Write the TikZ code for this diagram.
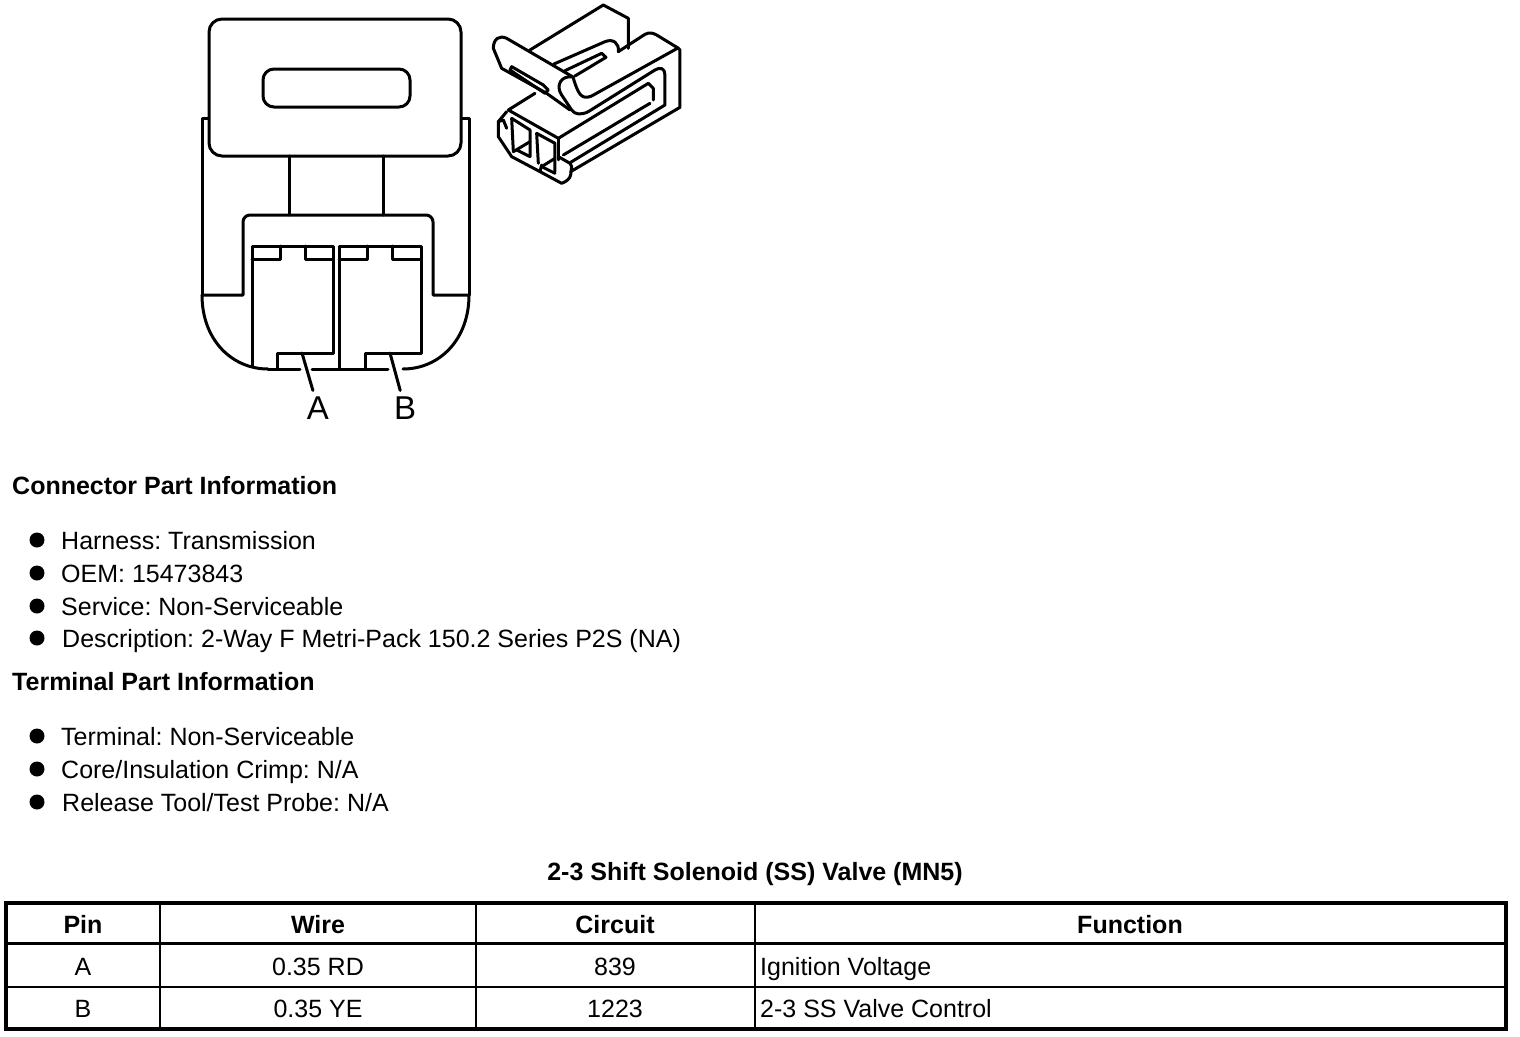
\documentclass[tikz,border=0pt]{standalone}
\usepackage{fontspec}
\setmainfont{Liberation Sans}
\frenchspacing
\usetikzlibrary{positioning}
\tikzset{
    part/.style={line width=3pt, line join=round, line cap=round},
    pinlabel/.style={font=\fontsize{33}{33}\selectfont, inner sep=6pt},
    heading/.style={anchor=base west, inner sep=0pt, font=\fontsize{25}{25}\selectfont\bfseries},
    item/.style={anchor=base west, inner sep=0pt, font=\fontsize{25}{25}\selectfont},
    dot/.style={circle, fill=black, inner sep=0pt, minimum size=15pt},
    head/.style={anchor=base, inner sep=0pt, font=\fontsize{25}{25}\selectfont\bfseries},
    cell/.style={anchor=base, inner sep=0pt, font=\fontsize{25}{25}\selectfont},
    leftcell/.style={anchor=base west, inner sep=0pt, font=\fontsize{25}{25}\selectfont}
}
\begin{document}
\begin{tikzpicture}[x=1pt, y=-1pt]
    \useasboundingbox [fill=white] (0,0) rectangle (1520,1036);

    % Front view of connector
    \draw [part, rounded corners=13pt] (209,19) rectangle (461,156);
    \draw [part, rounded corners=11pt] (263,69) rectangle (410,107);
    \draw [part] (208,118) -- (202,118) -- (202,295);
    \draw [part] (462,118) -- (469,118) -- (469,295);
    \draw [part] (289,156) -- (289,215);
    \draw [part] (383,156) -- (383,215);
    \draw [part] (202,295) -- (243,295) -- (243,240) [rounded corners=7pt] -- (243,215) -- (433,215) -- (433,240) [sharp corners] -- (433,295) -- (469,295);
    \draw [part] (202,295) .. controls (202,340) and (232,369) .. (268,369);
    \draw [part] (469,295) .. controls (469,340) and (439,369) .. (403,369);
    \draw [part] (268,369) -- (300,369);
    \draw [part] (312,369) -- (388,369);

    % Pin cavities
    \draw [part] (252,366) -- (252,246) -- (333,246) -- (333,353) -- (277,353) -- (277,369);
    \draw [part] (252,259) -- (280,259) -- (280,246);
    \draw [part] (333,259) -- (305,259) -- (305,246);
    \draw [part] (339,369) -- (339,246) -- (421,246) -- (421,353) -- (365,353) -- (365,369);
    \draw [part] (339,259) -- (367,259) -- (367,246);
    \draw [part] (421,259) -- (392,259) -- (392,246);

    % Pin labels
    \coordinate (pinA) at (302,353);
    \coordinate (pinB) at (390,353);
    \node [pinlabel] (lblA) at (318,408) {A};
    \node [pinlabel] (lblB) at (405,408) {B};
    \draw [part] (pinA) -- (lblA);
    \draw [part] (pinB) -- (lblB);

    % Perspective view of connector
    \begin{scope}[shift={(480pt,0pt)}, x=0.3333pt, y=-0.3333pt]
        % back block
        \draw [part] (150,150) -- (370,15) -- (445,55) -- (445,145);
        \draw [part] (222,192) -- (375,125) .. controls (400,115) and (418,130) .. (415,155);
        \draw [part] (255,212) -- (365,160) -- (378,172) -- (285,228);
        % outer hook
        \draw [part] (415,155) -- (495,103) .. controls (510,95) and (520,100) .. (530,105) -- (594,144) -- (600,150) -- (600,322) -- (272,515);
        \draw [part] (594,144) -- (335,288) .. controls (305,300) and (295,285) .. (279,231);
        \draw [part] (279,231) .. controls (245,225) and (225,255) .. (245,285) -- (275,330) .. controls (285,345) and (305,345) .. (325,335) -- (525,210) .. controls (540,200) and (555,205) .. (555,225) -- (555,315) -- (272,487);
        \draw [part] (505,250) -- (520,265) -- (520,300);
        % latch
        \draw [part] (279,231) -- (80,115) .. controls (60,105) and (40,115) .. (40,145) -- (65,205) -- (200,280) -- (270,330);
        \draw [part] (95,200) -- (190,255) -- (205,270) -- (195,280) -- (180,270) -- (90,210) -- cycle;
        % lower body
        \draw [part] (165,280) -- (85,330) -- (235,415) -- (505,250);
        \draw [part] (510,310) -- (250,465);
        \draw [part] (235,415) -- (235,480);
        % front cavities
        \draw [part] (100,455) -- (95,355) -- (150,390) -- (150,470);
        \draw [part] (100,455) -- (150,425);
        \draw [part] (110,450) -- (150,470);
        \draw [part] (175,490) -- (170,400) -- (225,430) -- (225,515);
        \draw [part] (185,500) -- (225,475);
        \draw [part] (185,500) -- (225,520);
        % front lip
        \draw [part] (80,335) -- (55,365) -- (55,410) -- (95,470) -- (180,515);
        \draw [part] (55,365) -- (70,360) -- (80,385);
        \draw [part] (185,495) -- (180,515) -- (245,550) .. controls (260,545) and (270,535) .. (272,525) -- (275,500) -- (270,490) -- (235,470);
    \end{scope}

    % Connector part information
    \node [heading] (connhead) at (12,494) {Connector Part Information};
    \node [dot] (d1) at (37,540) {};
    \node [item] (harness) at (61,549) {Harness: Transmission};
    \node [dot] (d2) at (37,573) {};
    \node [item] (oem) at (61,582) {OEM: 15473843};
    \node [dot] (d3) at (37,606) {};
    \node [item] (service) at (61,615) {Service: Non-Serviceable};
    \node [dot] (d4) at (37,638) {};
    \node [item] (descr) at (62,647) {Description: 2-Way F Metri-Pack 150.2 Series P2S (NA)};

    % Terminal part information
    \node [heading] (termhead) at (12,690) {Terminal Part Information};
    \node [dot] (d5) at (37,736) {};
    \node [item] (terminal) at (61,745) {Terminal: Non-Serviceable};
    \node [dot] (d6) at (37,769) {};
    \node [item] (crimp) at (61,778) {Core/Insulation Crimp: N/A};
    \node [dot] (d7) at (37,802) {};
    \node [item] (release) at (62,811) {Release Tool/Test Probe: N/A};

    % Table
    \node [head] (title) at (755,880) {2-3 Shift Solenoid (SS) Valve (MN5)};
    \draw [line width=4pt] (6,902.5) rectangle (1506,1029);
    \draw [line width=3pt] (6,943) -- (1506,943);
    \draw [line width=1.5pt] (6,987) -- (1506,987);
    \draw [line width=1.5pt] (160,902.5) -- (160,1029);
    \draw [line width=1.5pt] (476,902.5) -- (476,1029);
    \draw [line width=1.5pt] (755,902.5) -- (755,1029);

    \node [head] (hpin) at (83,933) {Pin};
    \node [head] (hwire) at (318,933) {Wire};
    \node [head] (hcircuit) at (615,933) {Circuit};
    \node [head] (hfunc) at (1130,933) {Function};
    \node [cell] (pa) at (83,975) {A};
    \node [cell] (wa) at (318,975) {0.35 RD};
    \node [cell] (ca) at (615,975) {839};
    \node [leftcell] (fa) at (760,975) {Ignition Voltage};
    \node [cell] (pb) at (83,1017) {B};
    \node [cell] (wb) at (318,1017) {0.35 YE};
    \node [cell] (cb) at (615,1017) {1223};
    \node [leftcell] (fb) at (760,1017) {2-3 SS Valve Control};
\end{tikzpicture}
\end{document}
